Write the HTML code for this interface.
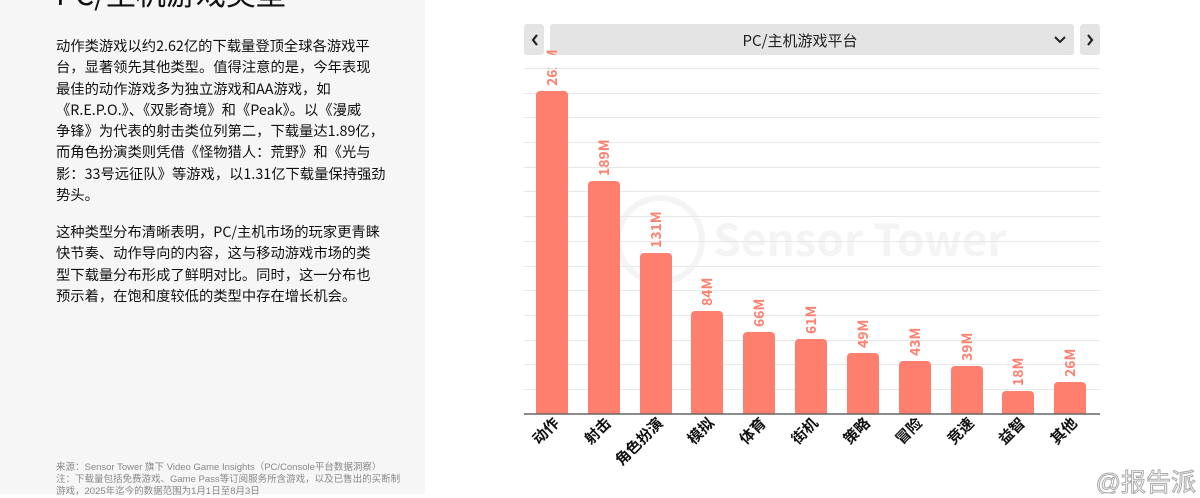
<!DOCTYPE html>
<html><head><meta charset="utf-8"><style>
body{margin:0;width:1200px;height:494px;overflow:hidden;background:#fff;font-family:"Noto Sans CJK SC",sans-serif;position:relative}
#left{position:absolute;left:0;top:0;width:425px;height:494px;background:#f6f6f6}
h1{position:absolute;left:56px;top:-30px;margin:0;font-size:30px;font-weight:400;color:#111}
.p{position:absolute;left:56px;width:360px;font-size:14.3px;line-height:21.3px;color:#111;white-space:nowrap}
.src{position:absolute;left:56px;top:462px;font-size:9.5px;line-height:12px;color:#888;width:370px;font-family:"Liberation Sans","Noto Sans CJK SC",sans-serif}
</style></head><body>
<div id="left">
<h1>PC/主机游戏类型</h1>
<div class="p" style="top:35px">动作类游戏以约2.62亿的下载量登顶全球各游戏平<br>台，显著领先其他类型。值得注意的是，今年表现<br>最佳的动作游戏多为独立游戏和AA游戏，如<br>《R.E.P.O.》、《双影奇境》和《Peak》。以《漫威<br>争锋》为代表的射击类位列第二，下载量达1.89亿，<br>而角色扮演类则凭借《怪物猎人：荒野》和《光与<br>影：33号远征队》等游戏，以1.31亿下载量保持强劲<br>势头。</div>
<div class="p" style="top:221px">这种类型分布清晰表明，PC/主机市场的玩家更青睐<br>快节奏、动作导向的内容，这与移动游戏市场的类<br>型下载量分布形成了鲜明对比。同时，这一分布也<br>预示着，在饱和度较低的类型中存在增长机会。</div>
<div class="src">来源：Sensor Tower 旗下 Video Game Insights（PC/Console平台数据洞察）<br>注：下载量包括免费游戏、Game Pass等订阅服务所含游戏，以及已售出的买断制<br>游戏，2025年迄今的数据范围为1月1日至8月3日</div>
</div>
<svg width="1200" height="494" style="position:absolute;left:0;top:0" font-family="Noto Sans CJK SC, sans-serif">
<rect x="524" y="24" width="20" height="31" rx="3" fill="#e4e4e4"/>
<path d="M537 35l-4 5 4 5" stroke="#222" stroke-width="2.2" fill="none"/>
<rect x="550" y="24" width="524" height="31" rx="3" fill="#e4e4e4"/>
<text x="800" y="46" font-size="15" text-anchor="middle" fill="#222">PC/主机游戏平台</text>
<path d="M1055 37l5 5 5-5" stroke="#222" stroke-width="2" fill="none"/>
<rect x="1080" y="24" width="20" height="31" rx="3" fill="#e4e4e4"/>
<path d="M1088 35l4 5-4 5" stroke="#222" stroke-width="2.2" fill="none"/>
<circle cx="660" cy="240" r="42" fill="none" stroke="#f4f4f4" stroke-width="6"/>
<text x="860" y="256" font-size="44" fill="#f4f4f4" text-anchor="middle" font-weight="bold">Sensor Tower</text>
<g stroke="#e8e8e8" stroke-width="1">
<line x1="524" x2="1100" y1="68.5" y2="68.5"/><line x1="524" x2="1100" y1="93.5" y2="93.5"/><line x1="524" x2="1100" y1="117.5" y2="117.5"/><line x1="524" x2="1100" y1="142.5" y2="142.5"/><line x1="524" x2="1100" y1="167.5" y2="167.5"/><line x1="524" x2="1100" y1="191.5" y2="191.5"/><line x1="524" x2="1100" y1="216.5" y2="216.5"/><line x1="524" x2="1100" y1="241.5" y2="241.5"/><line x1="524" x2="1100" y1="266.5" y2="266.5"/><line x1="524" x2="1100" y1="290.5" y2="290.5"/><line x1="524" x2="1100" y1="315.5" y2="315.5"/><line x1="524" x2="1100" y1="340.5" y2="340.5"/><line x1="524" x2="1100" y1="364.5" y2="364.5"/><line x1="524" x2="1100" y1="389.5" y2="389.5"/>
</g>
<g fill="#ff7f6e">
<rect x="536" y="91" width="32" height="330" rx="4"/>
<rect x="588" y="181" width="32" height="240" rx="4"/>
<rect x="640" y="253" width="32" height="170" rx="4"/>
<rect x="691" y="311" width="32" height="110" rx="4"/>
<rect x="743" y="332" width="32" height="90" rx="4"/>
<rect x="795" y="339" width="32" height="80" rx="4"/>
<rect x="847" y="353" width="32" height="70" rx="4"/>
<rect x="899" y="361" width="32" height="60" rx="4"/>
<rect x="951" y="366" width="32" height="60" rx="4"/>
<rect x="1002" y="391" width="32" height="30" rx="4"/>
<rect x="1054" y="382" width="32" height="40" rx="4"/>
</g>
<rect x="524" y="414" width="576" height="80" fill="#fff"/>
<line x1="524" x2="1100" y1="414" y2="414" stroke="#666" stroke-width="1.5"/>
<g fill="#ff7f6e" font-size="14" font-weight="bold">
<text transform="translate(557,86) rotate(-90)">262M</text>
<text transform="translate(609,176) rotate(-90)">189M</text>
<text transform="translate(661,248) rotate(-90)">131M</text>
<text transform="translate(712,306) rotate(-90)">84M</text>
<text transform="translate(764,327) rotate(-90)">66M</text>
<text transform="translate(816,334) rotate(-90)">61M</text>
<text transform="translate(868,348) rotate(-90)">49M</text>
<text transform="translate(920,356) rotate(-90)">43M</text>
<text transform="translate(972,361) rotate(-90)">39M</text>
<text transform="translate(1023,386) rotate(-90)">18M</text>
<text transform="translate(1075,377) rotate(-90)">26M</text>
</g>
<rect x="524" y="55" width="576" height="13" fill="#fff"/>
<g font-size="15" font-weight="bold" fill="#111" text-anchor="end">
<text transform="translate(560,424) rotate(-45)">动作</text>
<text transform="translate(612,424) rotate(-45)">射击</text>
<text transform="translate(664,424) rotate(-45)">角色扮演</text>
<text transform="translate(715,424) rotate(-45)">模拟</text>
<text transform="translate(767,424) rotate(-45)">体育</text>
<text transform="translate(819,424) rotate(-45)">街机</text>
<text transform="translate(871,424) rotate(-45)">策略</text>
<text transform="translate(923,424) rotate(-45)">冒险</text>
<text transform="translate(975,424) rotate(-45)">竞速</text>
<text transform="translate(1026,424) rotate(-45)">益智</text>
<text transform="translate(1078,424) rotate(-45)">其他</text>
</g>
<text x="1196" y="491" font-size="25" fill="#fff" stroke="#aaa" stroke-width="1" text-anchor="end" font-family="Liberation Sans, Noto Sans CJK SC, sans-serif">@报告派</text>
</svg>
</body></html>
